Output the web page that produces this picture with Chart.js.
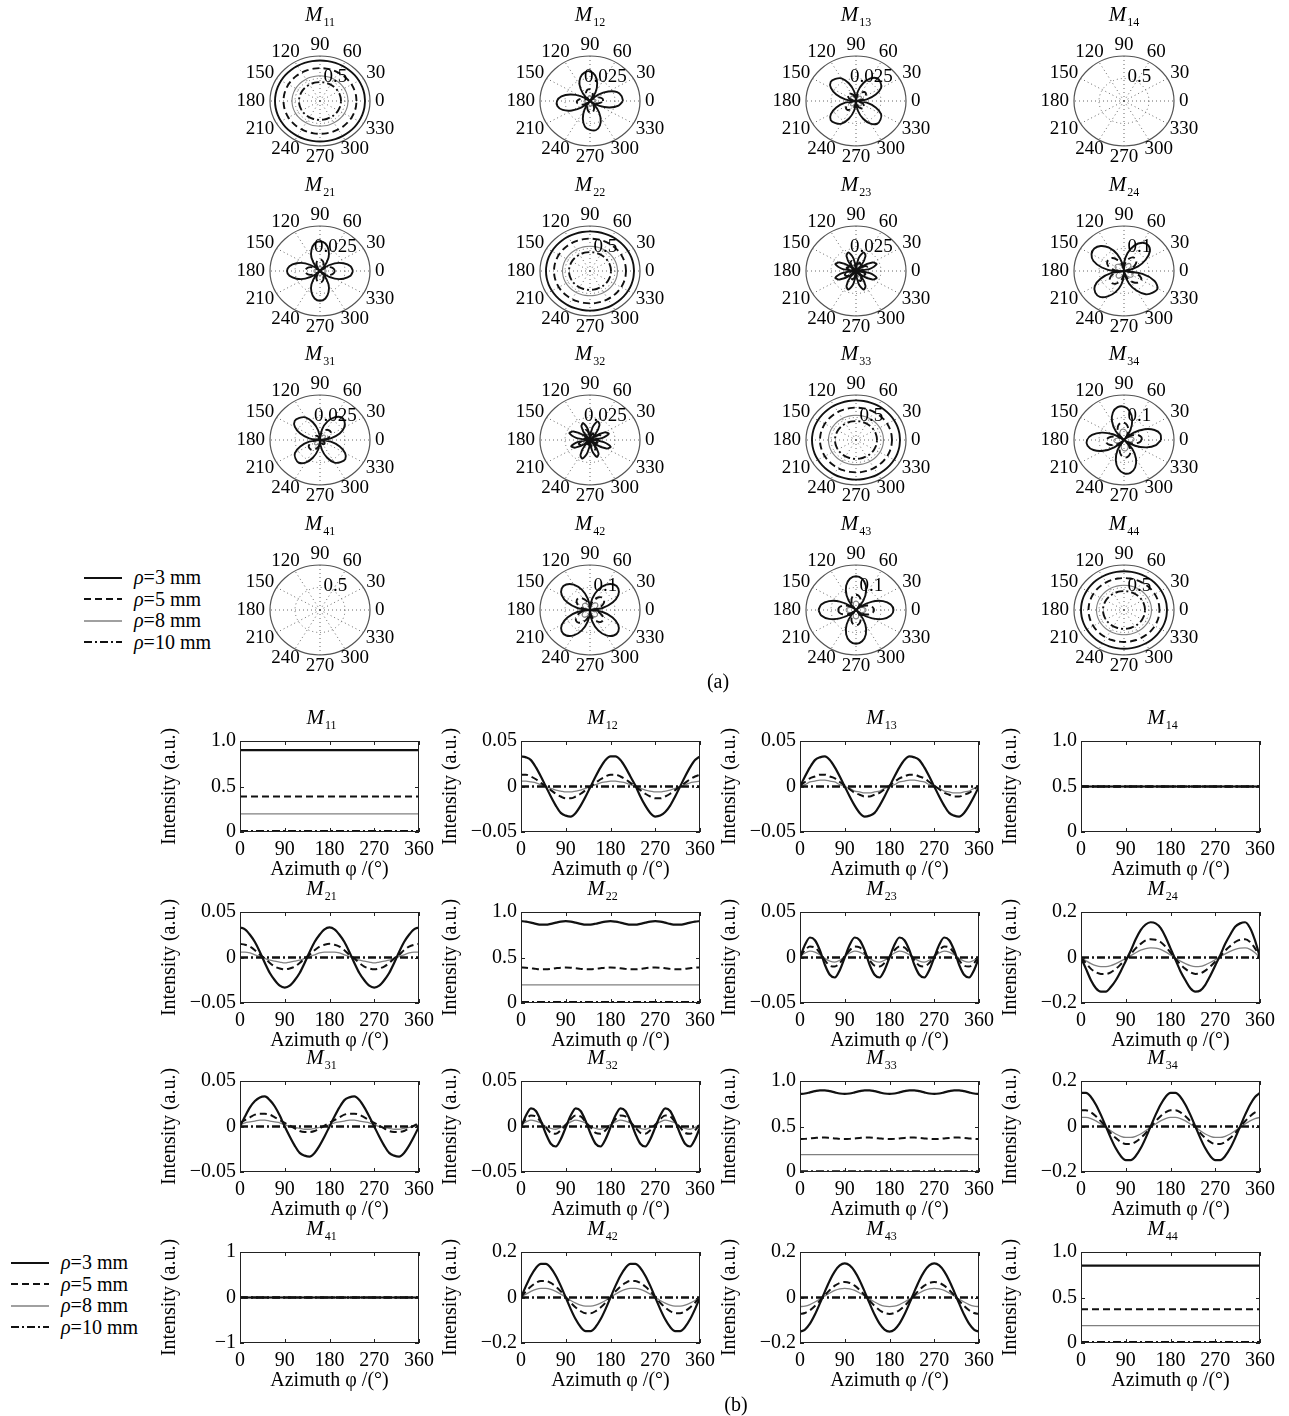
<!DOCTYPE html>
<html>
<head>
<meta charset="utf-8">
<script src="https://cdn.jsdelivr.net/npm/chart.js@4/dist/chart.umd.min.js"></script>
<style>
  body { margin:0; background:#fff; width:1289px; height:1416px; position:relative; overflow:hidden;
         font-family:"Liberation Serif","Times New Roman",serif; color:#000; }
  canvas { position:absolute; }
  .ttl { position:absolute; transform:translate(-50%,-50%); font-size:21px; font-style:italic; white-space:nowrap; line-height:1; }
  .ttl sub { font-style:normal; font-size:12px; vertical-align:-5px; margin-left:1px; }
  .tag { position:absolute; transform:translate(-50%,-50%); font-size:20px; white-space:nowrap; }
  .legend { position:absolute; font-size:20px; line-height:21.5px; white-space:nowrap; }
  .legend div { height:21.5px; display:flex; align-items:center; }
  .legend svg { margin-right:12px; }
</style>
</head>
<body>
<script>
// ---- azimuth samples (degrees) ----
const azimuth = [0,10,20,30,40,50,60,70,80,90,100,110,120,130,140,150,160,170,180,
                 190,200,210,220,230,240,250,260,270,280,290,300,310,320,330,340,350,360];
const spokeAngles = [0,30,60,90,120,150,180,210,240,270,300,330];
const rhoNames = ['=3 mm','=5 mm','=8 mm','=10 mm'];

// ---- axis ticks ----
const xTicks = [0,90,180,270,360];
const unitTicks = [0,0.5,1.0],     unitLabels = ['0','0.5','1.0'];
const smallTicks = [-0.05,0,0.05], smallLabels = ['\u22120.05','0','0.05'];
const midTicks = [-0.2,0,0.2],     midLabels = ['\u22120.2','0','0.2'];
const oneTicks = [-1,0,1],         oneLabels = ['\u22121','0','1'];
const polarMaxUnit = 1, polarMaxSmall = 0.05, polarMaxMid = 0.2;

// ---- M11 ----
const M11_rho3 = 0.90, M11_rho5 = 0.39, M11_rho8 = 0.20, M11_rho10 = 0.01;
const M11_polar = [0.90, 0.73, 0.56, 0.42];
// ---- M12 ----
const M12_rho3 = [0.033,0.032,0.029,0.021,0.011,0.000,-0.011,-0.021,-0.029,-0.032,-0.033,-0.029,-0.021,-0.011,0.000,0.011,0.021,0.029,
                  0.033,0.033,0.029,0.021,0.011,0.001,-0.011,-0.021,-0.029,-0.033,-0.032,-0.028,-0.021,-0.011,0.000,0.011,0.021,0.029,0.033];
const M12_rho5 = [0.013,0.013,0.011,0.008,0.004,0.000,-0.004,-0.008,-0.011,-0.013,-0.013,-0.011,-0.008,-0.004,0.000,0.004,0.008,0.011,
                  0.013,0.013,0.011,0.008,0.004,0.000,-0.004,-0.008,-0.011,-0.013,-0.013,-0.011,-0.008,-0.004,0.000,0.004,0.008,0.011,0.013];
const M12_rho8 = [0.006,0.006,0.005,0.004,0.002,0.000,-0.002,-0.004,-0.005,-0.006,-0.006,-0.005,-0.004,-0.002,0.000,0.002,0.004,0.005,
                  0.006,0.006,0.005,0.004,0.002,0.000,-0.002,-0.004,-0.005,-0.006,-0.006,-0.005,-0.004,-0.002,0.000,0.002,0.004,0.005,0.006];
const M12_rho10 = 0;
// ---- M13 ----
const M13_rho3 = [0.000,0.011,0.021,0.029,0.032,0.033,0.029,0.021,0.011,0.000,-0.011,-0.021,-0.029,-0.033,-0.032,-0.029,-0.021,-0.011,
                  0.000,0.011,0.021,0.029,0.033,0.032,0.029,0.021,0.011,0.000,-0.011,-0.021,-0.029,-0.032,-0.033,-0.029,-0.021,-0.011,0.000];
const M13_rho5 = [0.001,0.005,0.009,0.011,0.013,0.013,0.011,0.009,0.005,0.001,-0.003,-0.007,-0.009,-0.011,-0.011,-0.009,-0.007,-0.003,
                  0.001,0.005,0.009,0.011,0.013,0.013,0.011,0.009,0.005,0.001,-0.003,-0.007,-0.009,-0.011,-0.011,-0.009,-0.007,-0.003,0.001];
const M13_rho8 = [0.000,0.002,0.005,0.006,0.007,0.007,0.006,0.005,0.002,0.000,-0.002,-0.005,-0.006,-0.007,-0.007,-0.006,-0.005,-0.002,
                  0.000,0.002,0.005,0.006,0.007,0.007,0.006,0.005,0.002,0.000,-0.002,-0.005,-0.006,-0.007,-0.007,-0.006,-0.005,-0.002,0.000];
const M13_rho10 = 0;
// ---- M14 ----
const M14_rho3 = 0.5, M14_rho5 = 0.5, M14_rho8 = 0.5, M14_rho10 = 0.5;
const M14_polar = [0, 0, 0, 0];
// ---- M21 ----
const M21_rho3 = [0.033,0.031,0.025,0.017,0.006,-0.006,-0.017,-0.025,-0.031,-0.033,-0.031,-0.025,-0.017,-0.006,0.006,0.017,0.025,0.031,
                  0.033,0.031,0.025,0.017,0.006,-0.006,-0.017,-0.025,-0.031,-0.033,-0.031,-0.025,-0.017,-0.006,0.006,0.017,0.025,0.031,0.033];
const M21_rho5 = [0.015,0.014,0.012,0.008,0.003,-0.001,-0.006,-0.010,-0.012,-0.013,-0.012,-0.010,-0.006,-0.001,0.003,0.008,0.012,0.014,
                  0.015,0.014,0.012,0.008,0.003,-0.001,-0.006,-0.010,-0.012,-0.013,-0.012,-0.010,-0.006,-0.001,0.003,0.008,0.012,0.014,0.015];
const M21_rho8 = [0.006,0.006,0.005,0.003,0.001,-0.001,-0.003,-0.004,-0.005,-0.006,-0.005,-0.004,-0.003,-0.001,0.001,0.003,0.005,0.006,
                  0.006,0.006,0.005,0.003,0.001,-0.001,-0.003,-0.004,-0.005,-0.006,-0.005,-0.004,-0.003,-0.001,0.001,0.003,0.005,0.006,0.006];
const M21_rho10 = 0;
// ---- M22 ----
const M22_rho3 = [0.900,0.895,0.884,0.870,0.861,0.861,0.870,0.883,0.895,0.899,0.895,0.883,0.870,0.861,0.862,0.871,0.884,0.895,
                  0.900,0.894,0.883,0.870,0.861,0.861,0.870,0.883,0.895,0.899,0.895,0.883,0.869,0.861,0.861,0.870,0.884,0.895,0.900];
const M22_rho5 = [0.390,0.388,0.382,0.375,0.371,0.371,0.375,0.382,0.388,0.390,0.388,0.382,0.375,0.371,0.371,0.375,0.382,0.388,
                  0.390,0.388,0.382,0.375,0.371,0.371,0.375,0.382,0.388,0.390,0.388,0.382,0.375,0.371,0.371,0.375,0.382,0.388,0.390];
const M22_rho8 = 0.20, M22_rho10 = 0.01;
const M22_polar = [0.88, 0.72, 0.55, 0.42];
// ---- M23 ----
const M23_rho3 = [0.000,0.014,0.022,0.019,0.008,-0.008,-0.019,-0.022,-0.014,0.000,0.014,0.022,0.019,0.008,-0.008,-0.019,-0.022,-0.014,
                  0.000,0.014,0.022,0.019,0.008,-0.008,-0.019,-0.022,-0.014,0.000,0.014,0.022,0.019,0.008,-0.008,-0.019,-0.022,-0.014,0.000];
const M23_rho5 = [0.001,0.008,0.012,0.011,0.005,-0.003,-0.009,-0.010,-0.006,0.001,0.008,0.012,0.011,0.005,-0.003,-0.009,-0.010,-0.006,
                  0.001,0.008,0.012,0.011,0.005,-0.003,-0.009,-0.010,-0.006,0.001,0.008,0.012,0.011,0.005,-0.003,-0.009,-0.010,-0.006,0.001];
const M23_rho8 = [0.001,0.005,0.007,0.006,0.003,-0.001,-0.004,-0.005,-0.003,0.001,0.005,0.007,0.006,0.003,-0.001,-0.004,-0.005,-0.003,
                  0.001,0.005,0.007,0.006,0.003,-0.001,-0.004,-0.005,-0.003,0.001,0.005,0.007,0.006,0.003,-0.001,-0.004,-0.005,-0.003,0.001];
const M23_rho10 = 0;
// ---- M24 ----
const M24_rho3 = [0.000,-0.050,-0.100,-0.135,-0.150,-0.150,-0.130,-0.100,-0.060,-0.015,0.030,0.080,0.120,0.145,0.155,0.150,0.130,0.090,
                  0.040,-0.010,-0.060,-0.100,-0.135,-0.150,-0.145,-0.120,-0.080,-0.035,0.010,0.060,0.100,0.135,0.150,0.155,0.130,0.075,0.000];
const M24_rho5 = [0.000,-0.025,-0.050,-0.065,-0.072,-0.072,-0.065,-0.050,-0.030,-0.008,0.015,0.040,0.060,0.075,0.080,0.078,0.068,0.048,
                  0.022,-0.005,-0.030,-0.050,-0.065,-0.072,-0.070,-0.058,-0.040,-0.018,0.005,0.030,0.050,0.068,0.078,0.080,0.068,0.040,0.000];
const M24_rho8 = [0.000,-0.014,-0.027,-0.036,-0.040,-0.040,-0.036,-0.027,-0.016,-0.004,0.008,0.021,0.032,0.039,0.042,0.041,0.036,0.025,
                  0.011,-0.003,-0.016,-0.027,-0.036,-0.040,-0.039,-0.032,-0.022,-0.010,0.003,0.016,0.027,0.036,0.041,0.042,0.036,0.021,0.000];
const M24_rho10 = 0;
// ---- M31 ----
const M31_rho3 = [0.000,0.011,0.021,0.028,0.032,0.033,0.029,0.022,0.012,0.000,-0.011,-0.021,-0.029,-0.032,-0.033,-0.029,-0.021,-0.011,
                  0.000,0.011,0.021,0.029,0.032,0.033,0.029,0.021,0.011,0.000,-0.011,-0.021,-0.029,-0.032,-0.033,-0.029,-0.021,-0.011,0.000];
const M31_rho5 = [0.004,0.007,0.010,0.013,0.014,0.014,0.013,0.010,0.007,0.004,0.001,-0.002,-0.005,-0.006,-0.006,-0.005,-0.002,0.001,
                  0.004,0.007,0.010,0.013,0.014,0.014,0.013,0.010,0.007,0.004,0.001,-0.002,-0.005,-0.006,-0.006,-0.005,-0.002,0.001,0.004];
const M31_rho8 = [0.002,0.004,0.005,0.006,0.007,0.007,0.006,0.005,0.004,0.002,0.000,-0.001,-0.002,-0.003,-0.003,-0.002,-0.001,0.000,
                  0.002,0.004,0.005,0.006,0.007,0.007,0.006,0.005,0.004,0.002,0.000,-0.001,-0.002,-0.003,-0.003,-0.002,-0.001,0.000,0.002];
const M31_rho10 = 0;
// ---- M32 ----
const M32_rho3 = [-0.001,0.012,0.020,0.017,0.006,-0.008,-0.019,-0.022,-0.014,-0.001,0.012,0.020,0.017,0.006,-0.008,-0.019,-0.022,-0.014,
                  -0.001,0.012,0.020,0.017,0.006,-0.008,-0.019,-0.022,-0.014,-0.001,0.012,0.020,0.017,0.006,-0.008,-0.019,-0.022,-0.014,-0.001];
const M32_rho5 = [0.002,0.008,0.012,0.011,0.005,-0.001,-0.007,-0.008,-0.004,0.002,0.008,0.012,0.011,0.005,-0.001,-0.007,-0.008,-0.004,
                  0.002,0.008,0.012,0.011,0.005,-0.001,-0.007,-0.008,-0.004,0.002,0.008,0.012,0.011,0.005,-0.001,-0.007,-0.008,-0.004,0.002];
const M32_rho8 = [0.002,0.005,0.007,0.006,0.004,0.000,-0.002,-0.003,-0.001,0.002,0.005,0.007,0.006,0.004,0.000,-0.002,-0.003,-0.001,
                  0.002,0.005,0.007,0.006,0.004,0.000,-0.002,-0.003,-0.001,0.002,0.005,0.007,0.006,0.004,0.000,-0.002,-0.003,-0.001,0.002];
const M32_rho10 = 0;
// ---- M33 ----
const M33_rho3 = [0.858,0.863,0.875,0.888,0.897,0.897,0.888,0.875,0.863,0.858,0.863,0.875,0.888,0.897,0.897,0.888,0.875,0.863,
                  0.858,0.863,0.875,0.888,0.897,0.897,0.888,0.875,0.863,0.858,0.863,0.875,0.888,0.897,0.897,0.888,0.875,0.863,0.858];
const M33_rho5 = [0.362,0.364,0.369,0.374,0.378,0.378,0.374,0.369,0.364,0.362,0.364,0.369,0.374,0.378,0.378,0.374,0.369,0.364,
                  0.362,0.364,0.369,0.374,0.378,0.378,0.374,0.369,0.364,0.362,0.364,0.369,0.374,0.378,0.378,0.374,0.369,0.364,0.362];
const M33_rho8 = 0.19, M33_rho10 = 0.005;
const M33_polar = [0.88, 0.72, 0.55, 0.42];
// ---- M34 ----
const M34_rho3 = [0.148,0.148,0.130,0.096,0.051,0.000,-0.051,-0.096,-0.130,-0.148,-0.148,-0.130,-0.096,-0.051,0.000,0.051,0.096,0.130,
                  0.148,0.148,0.130,0.096,0.051,0.000,-0.051,-0.096,-0.130,-0.148,-0.148,-0.130,-0.096,-0.051,0.000,0.051,0.096,0.130,0.148];
const M34_rho5 = [0.071,0.071,0.062,0.045,0.023,-0.003,-0.029,-0.051,-0.068,-0.077,-0.077,-0.068,-0.051,-0.029,-0.003,0.023,0.045,0.062,
                  0.071,0.071,0.062,0.045,0.023,-0.003,-0.029,-0.051,-0.068,-0.077,-0.077,-0.068,-0.051,-0.029,-0.003,0.023,0.045,0.062,0.071];
const M34_rho8 = [0.040,0.040,0.035,0.025,0.011,-0.004,-0.019,-0.033,-0.043,-0.048,-0.048,-0.043,-0.033,-0.019,-0.004,0.011,0.025,0.035,
                  0.040,0.040,0.035,0.025,0.011,-0.004,-0.019,-0.033,-0.043,-0.048,-0.048,-0.043,-0.033,-0.019,-0.004,0.011,0.025,0.035,0.040];
const M34_rho10 = 0;
// ---- M41 ----
const M41_rho3 = 0, M41_rho5 = 0, M41_rho8 = 0, M41_rho10 = 0;
const M41_polar = [0, 0, 0, 0];
// ---- M42 ----
const M42_rho3 = [0.000,0.051,0.096,0.130,0.148,0.148,0.130,0.096,0.051,0.000,-0.051,-0.096,-0.130,-0.148,-0.148,-0.130,-0.096,-0.051,
                  0.000,0.051,0.096,0.130,0.148,0.148,0.130,0.096,0.051,0.000,-0.051,-0.096,-0.130,-0.148,-0.148,-0.130,-0.096,-0.051,0.000];
const M42_rho5 = [0.002,0.027,0.048,0.064,0.073,0.073,0.064,0.048,0.027,0.002,-0.023,-0.044,-0.060,-0.069,-0.069,-0.060,-0.044,-0.023,
                  0.002,0.027,0.048,0.064,0.073,0.073,0.064,0.048,0.027,0.002,-0.023,-0.044,-0.060,-0.069,-0.069,-0.060,-0.044,-0.023,0.002];
const M42_rho8 = [0.001,0.015,0.027,0.036,0.040,0.040,0.036,0.027,0.015,0.001,-0.013,-0.025,-0.034,-0.038,-0.038,-0.034,-0.025,-0.013,
                  0.001,0.015,0.027,0.036,0.040,0.040,0.036,0.027,0.015,0.001,-0.013,-0.025,-0.034,-0.038,-0.038,-0.034,-0.025,-0.013,0.001];
const M42_rho10 = 0;
// ---- M43 ----
const M43_rho3 = [-0.150,-0.141,-0.115,-0.075,-0.026,0.026,0.075,0.115,0.141,0.150,0.141,0.115,0.075,0.026,-0.026,-0.075,-0.115,-0.141,
                  -0.150,-0.141,-0.115,-0.075,-0.026,0.026,0.075,0.115,0.141,0.150,0.141,0.115,0.075,0.026,-0.026,-0.075,-0.115,-0.141,-0.150];
const M43_rho5 = [-0.072,-0.068,-0.056,-0.037,-0.014,0.010,0.033,0.052,0.064,0.068,0.064,0.052,0.033,0.010,-0.014,-0.037,-0.056,-0.068,
                  -0.072,-0.068,-0.056,-0.037,-0.014,0.010,0.033,0.052,0.064,0.068,0.064,0.052,0.033,0.010,-0.014,-0.037,-0.056,-0.068,-0.072];
const M43_rho8 = [-0.040,-0.038,-0.031,-0.020,-0.007,0.007,0.020,0.031,0.038,0.040,0.038,0.031,0.020,0.007,-0.007,-0.020,-0.031,-0.038,
                  -0.040,-0.038,-0.031,-0.020,-0.007,0.007,0.020,0.031,0.038,0.040,0.038,0.031,0.020,0.007,-0.007,-0.020,-0.031,-0.038,-0.040];
const M43_rho10 = 0;
// ---- M44 ----
const M44_rho3 = 0.85, M44_rho5 = 0.37, M44_rho8 = 0.19, M44_rho10 = 0.01;
const M44_polar = [0.86, 0.71, 0.55, 0.42];

// element table: name, line series, y ticks, y labels, polar series, polar radius
const matrix = [
  ['11', [M11_rho3,M11_rho5,M11_rho8,M11_rho10], unitTicks, unitLabels, M11_polar, polarMaxUnit],
  ['12', [M12_rho3,M12_rho5,M12_rho8,M12_rho10], smallTicks, smallLabels, null, polarMaxSmall],
  ['13', [M13_rho3,M13_rho5,M13_rho8,M13_rho10], smallTicks, smallLabels, null, polarMaxSmall],
  ['14', [M14_rho3,M14_rho5,M14_rho8,M14_rho10], unitTicks, unitLabels, M14_polar, polarMaxUnit],
  ['21', [M21_rho3,M21_rho5,M21_rho8,M21_rho10], smallTicks, smallLabels, null, polarMaxSmall],
  ['22', [M22_rho3,M22_rho5,M22_rho8,M22_rho10], unitTicks, unitLabels, M22_polar, polarMaxUnit],
  ['23', [M23_rho3,M23_rho5,M23_rho8,M23_rho10], smallTicks, smallLabels, null, polarMaxSmall],
  ['24', [M24_rho3,M24_rho5,M24_rho8,M24_rho10], midTicks, midLabels, null, polarMaxMid],
  ['31', [M31_rho3,M31_rho5,M31_rho8,M31_rho10], smallTicks, smallLabels, null, polarMaxSmall],
  ['32', [M32_rho3,M32_rho5,M32_rho8,M32_rho10], smallTicks, smallLabels, null, polarMaxSmall],
  ['33', [M33_rho3,M33_rho5,M33_rho8,M33_rho10], unitTicks, unitLabels, M33_polar, polarMaxUnit],
  ['34', [M34_rho3,M34_rho5,M34_rho8,M34_rho10], midTicks, midLabels, null, polarMaxMid],
  ['41', [M41_rho3,M41_rho5,M41_rho8,M41_rho10], oneTicks, oneLabels, M41_polar, polarMaxUnit],
  ['42', [M42_rho3,M42_rho5,M42_rho8,M42_rho10], midTicks, midLabels, null, polarMaxMid],
  ['43', [M43_rho3,M43_rho5,M43_rho8,M43_rho10], midTicks, midLabels, null, polarMaxMid],
  ['44', [M44_rho3,M44_rho5,M44_rho8,M44_rho10], unitTicks, unitLabels, M44_polar, polarMaxUnit],
];

// ---- drawing styles ----
const SERIF = "'Liberation Serif','Times New Roman',serif";
const lineStyles = [
  { borderColor:'#111', borderWidth:2.2, borderDash:[],          order:1 },
  { borderColor:'#111', borderWidth:2.0, borderDash:[7,4],       order:2 },
  { borderColor:'#808080', borderWidth:1.3, borderDash:[],       order:3 },
  { borderColor:'#111', borderWidth:2.4, borderDash:[8,3,2,3],   order:0 },
];

// ---- layout ----
const polarCX = [320, 590, 856, 1124], polarCY = [101, 271, 440, 610];
const PA = 50, PB = 45, PPX = 50, PPY = 28;
const lineL = [240, 521, 800, 1081], lineT = [737, 908, 1077, 1248];
const PW = 179, PH = 95, YW = 86, XH = 50, PT = 12, PR = 22;

function addTitle(name, x, y) {
  const d = document.createElement('div');
  d.className = 'ttl';
  d.style.left = x + 'px'; d.style.top = y + 'px';
  d.innerHTML = 'M<sub>' + name + '</sub>';
  document.body.appendChild(d);
}
function addCanvas(x, y, w, h) {
  const c = document.createElement('canvas');
  c.width = w; c.height = h;
  c.style.left = x + 'px'; c.style.top = y + 'px';
  c.style.width = w + 'px'; c.style.height = h + 'px';
  document.body.appendChild(c);
  return c;
}
const valueAt = (s, i) => Array.isArray(s) ? s[i] : s;

// polar grid: dotted spokes, dotted half ring, solid rim, angle and ring labels
const polarGrid = {
  id: 'polarGrid',
  beforeDatasetsDraw(chart, args, opts) {
    const { ctx, scales: { x, y } } = chart;
    const cx = x.getPixelForValue(0), cy = y.getPixelForValue(0);
    const ax = x.getPixelForValue(opts.rmax) - cx, by = cy - y.getPixelForValue(opts.rmax);
    ctx.save();
    ctx.strokeStyle = '#666'; ctx.lineWidth = 1; ctx.setLineDash([1, 3]);
    spokeAngles.forEach(a => {
      const t = a * Math.PI / 180;
      ctx.beginPath(); ctx.moveTo(cx, cy);
      ctx.lineTo(cx + ax * Math.cos(t), cy - by * Math.sin(t)); ctx.stroke();
    });
    ctx.beginPath(); ctx.ellipse(cx, cy, ax * 0.5, by * 0.5, 0, 0, Math.PI * 2); ctx.stroke();
    ctx.setLineDash([]); ctx.strokeStyle = '#555'; ctx.lineWidth = 1.2;
    ctx.beginPath(); ctx.ellipse(cx, cy, ax, by, 0, 0, Math.PI * 2); ctx.stroke();
    ctx.restore();
  },
  afterDatasetsDraw(chart, args, opts) {
    const { ctx, scales: { x, y } } = chart;
    const cx = x.getPixelForValue(0), cy = y.getPixelForValue(0);
    const ax = x.getPixelForValue(opts.rmax) - cx, by = cy - y.getPixelForValue(opts.rmax);
    ctx.save();
    ctx.fillStyle = '#000';
    ctx.font = '19px ' + SERIF;
    ctx.textBaseline = 'middle'; ctx.textAlign = 'center';
    spokeAngles.forEach(a => {
      const t = a * Math.PI / 180, c = Math.cos(t), s = Math.sin(t);
      const txt = String(a);
      const w = ctx.measureText(txt).width;
      const px = cx + ax * c + c * (w / 2 + 5);
      const py = cy - by * s - s * 11;
      ctx.fillText(txt, px, py);
    });
    const t82 = 82 * Math.PI / 180;
    ctx.textBaseline = 'alphabetic';
    ctx.fillText(String(opts.rmax / 2), cx + 0.5 * ax * Math.cos(t82) + 12, cy - 0.5 * by * Math.sin(t82) + 3);
    ctx.restore();
  }
};

// box frame with inward ticks on all four sides
const boxFrame = {
  id: 'boxFrame',
  afterDatasetsDraw(chart, args, opts) {
    const { ctx, chartArea: a, scales: { x, y } } = chart;
    ctx.save();
    ctx.strokeStyle = '#222'; ctx.lineWidth = 1;
    ctx.strokeRect(Math.round(a.left) + 0.5, Math.round(a.top) + 0.5, Math.round(a.width) - 1, Math.round(a.height) - 1);
    ctx.beginPath();
    xTicks.forEach(v => {
      const px = Math.round(x.getPixelForValue(v)) + 0.5;
      ctx.moveTo(px, a.bottom); ctx.lineTo(px, a.bottom - 4);
      ctx.moveTo(px, a.top); ctx.lineTo(px, a.top + 4);
    });
    opts.yTicks.forEach(v => {
      const py = Math.round(y.getPixelForValue(v)) + 0.5;
      ctx.moveTo(a.left, py); ctx.lineTo(a.left + 4, py);
      ctx.moveTo(a.right, py); ctx.lineTo(a.right - 4, py);
    });
    ctx.stroke();
    ctx.restore();
  }
};

matrix.forEach((el, k) => {
  const [name, series, yTicks, yLabels, polarSeries, rmax] = el;
  const col = k % 4, row = Math.floor(k / 4);

  // ---------- (a) polar plot ----------
  const pcx = polarCX[col], pcy = polarCY[row];
  const pc = addCanvas(pcx - PA - PPX, pcy - PB - PPY, 2 * (PA + PPX), 2 * (PB + PPY));
  const pSeries = polarSeries || series;
  new Chart(pc, {
    type: 'scatter',
    data: {
      datasets: pSeries.map((s, j) => ({
        data: azimuth.map((deg, i) => {
          const r = valueAt(s, i), t = deg * Math.PI / 180;
          return { x: r * Math.cos(t), y: r * Math.sin(t) };
        }),
        showLine: true, pointRadius: 0, tension: 0.3, fill: false, clip: false,
        ...lineStyles[j],
        borderWidth: j === 2 ? 1.1 : 1.9,
      }))
    },
    options: {
      responsive: false, animation: false, devicePixelRatio: 1,
      layout: { padding: { left: PPX, right: PPX, top: PPY, bottom: PPY } },
      plugins: { legend: { display: false }, tooltip: { enabled: false }, polarGrid: { rmax } },
      scales: {
        x: { type: 'linear', min: -rmax, max: rmax, display: false },
        y: { type: 'linear', min: -rmax, max: rmax, display: false }
      }
    },
    plugins: [polarGrid]
  });
  addTitle(name, pcx, pcy - 85);

  // ---------- (b) azimuth curves ----------
  const L = lineL[col], T = lineT[row];
  const lc = addCanvas(L - YW, T - PT, YW + PW + PR, PT + PH + XH);
  new Chart(lc, {
    type: 'line',
    data: {
      datasets: series.map((s, j) => ({
        data: azimuth.map((deg, i) => ({ x: deg, y: valueAt(s, i) })),
        pointRadius: 0, fill: false, cubicInterpolationMode: 'monotone',
        ...lineStyles[j]
      }))
    },
    options: {
      responsive: false, animation: false, devicePixelRatio: 1,
      layout: { padding: { left: 0, right: PR, top: PT, bottom: 0 } },
      plugins: { legend: { display: false }, tooltip: { enabled: false }, boxFrame: { yTicks } },
      scales: {
        x: {
          type: 'linear', min: 0, max: 360,
          afterBuildTicks: s => { s.ticks = xTicks.map(v => ({ value: v })); },
          afterFit: s => { s.height = XH; },
          grid: { display: false, drawTicks: false }, border: { display: false },
          ticks: { color: '#000', font: { family: SERIF, size: 20 }, padding: 6, maxRotation: 0, autoSkip: false,
                   callback: v => String(v) },
          title: { display: true, text: 'Azimuth \u03c6 /(\u00b0)', color: '#000', font: { family: SERIF, size: 20 },
                   padding: { top: 0, bottom: 0 } }
        },
        y: {
          type: 'linear', min: yTicks[0], max: yTicks[yTicks.length - 1],
          afterBuildTicks: s => { s.ticks = yTicks.map(v => ({ value: v })); },
          afterFit: s => { s.width = YW; },
          grid: { display: false, drawTicks: false }, border: { display: false },
          ticks: { color: '#000', font: { family: SERIF, size: 20 }, padding: 4, autoSkip: false,
                   callback: v => yLabels[yTicks.indexOf(v)] },
          title: { display: true, text: 'Intensity (a.u.)', color: '#000', font: { family: SERIF, size: 20 },
                   padding: { top: 4, bottom: 0 } }
        }
      }
    },
    plugins: [boxFrame]
  });
  addTitle(name, L + PW / 2 - 8, T - 18);
});

// ---- legends ----
const legendSwatch = [
  '<line x1="0" y1="6" x2="38" y2="6" stroke="#111" stroke-width="2.2"/>',
  '<line x1="0" y1="6" x2="38" y2="6" stroke="#111" stroke-width="2" stroke-dasharray="7 4"/>',
  '<line x1="0" y1="6" x2="38" y2="6" stroke="#808080" stroke-width="1.3"/>',
  '<line x1="0" y1="6" x2="38" y2="6" stroke="#111" stroke-width="2" stroke-dasharray="8 3 2 3"/>'
];
function addLegend(x, y) {
  const box = document.createElement('div');
  box.className = 'legend';
  box.style.left = x + 'px'; box.style.top = y + 'px';
  box.innerHTML = rhoNames.map((n, j) =>
    '<div><svg width="38" height="12">' + legendSwatch[j] + '</svg><i>\u03c1</i>' + n + '</div>').join('');
  document.body.appendChild(box);
}
addLegend(84, 567);
addLegend(11, 1252);

function addTag(txt, x, y) {
  const d = document.createElement('div');
  d.className = 'tag'; d.textContent = txt;
  d.style.left = x + 'px'; d.style.top = y + 'px';
  document.body.appendChild(d);
}
addTag('(a)', 718, 681);
addTag('(b)', 736, 1404);
</script>
</body>
</html>
